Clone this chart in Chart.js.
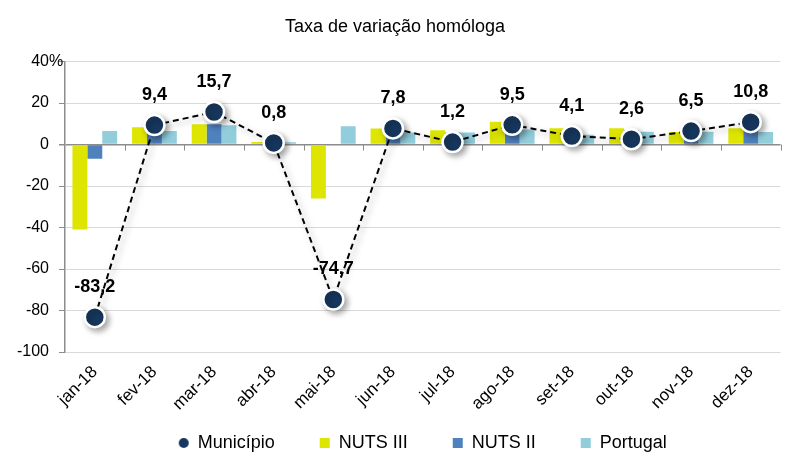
<!DOCTYPE html>
<html lang="pt">
<head>
    <meta charset="UTF-8">
    <title>Taxa de variação homóloga</title>
    <script src="https://cdn.jsdelivr.net/npm/chart.js"></script>
    <style>
        html, body { margin: 0; padding: 0; background: #fff; }
        #wrap { width: 793px; height: 462px; }
    </style>
</head>
<body>
    <div id="wrap"><canvas id="taxaChart"></canvas></div>

    <script>
        // Data
        const categories = ['jan-18', 'fev-18', 'mar-18', 'abr-18', 'mai-18', 'jun-18',
                            'jul-18', 'ago-18', 'set-18', 'out-18', 'nov-18', 'dez-18'];
        const municipio = [-83.2, 9.4, 15.7, 0.8, -74.7, 7.8, 1.2, 9.5, 4.1, 2.6, 6.5, 10.8];
        const nutsIII = [-41, 8.3, 9.8, 1.2, -26, 7.7, 6.9, 11, 7.9, 7.9, 6.1, 7.9];
        const nutsII = [-6.8, 7, 9.8, 0.9, 0, 5.5, 5.8, 9, 6.5, 7, 5.5, 9.5];
        const portugal = [6.6, 6.6, 9.3, 1.1, 8.8, 5.8, 5.8, 7.3, 4.7, 6.2, 6.2, 6.1];
        const yTicks = [40, 20, 0, -20, -40, -60, -80, -100];

        const navy = '#17375E';
        const fontFamily = "'Liberation Sans', Arial, sans-serif";

        // small legend dot for Município
        const dot = document.createElement('canvas');
        dot.width = 12;
        dot.height = 12;
        const dctx = dot.getContext('2d');
        dctx.beginPath();
        dctx.arc(6, 6, 5, 0, Math.PI * 2);
        dctx.fillStyle = navy;
        dctx.fill();

        // shadow under the Município line + markers
        const shadowPlugin = {
            id: 'shadow',
            beforeDatasetDraw(chart, args) {
                if (args.index !== 0) return;
                const ctx = chart.ctx;
                ctx.save();
                ctx.shadowColor = 'rgba(0,0,0,0.35)';
                ctx.shadowBlur = 6;
                ctx.shadowOffsetX = 3;
                ctx.shadowOffsetY = 3;
            },
            afterDatasetDraw(chart, args) {
                if (args.index === 0) chart.ctx.restore();
            }
        };

        // tick marks on the zero line between categories
        const zeroTicks = {
            id: 'zeroTicks',
            beforeDatasetsDraw(chart) {
                const { ctx, chartArea, scales } = chart;
                const y0 = scales.y.getPixelForValue(0);
                const step = (chartArea.right - chartArea.left) / categories.length;
                ctx.save();
                ctx.strokeStyle = '#8c8c8c';
                ctx.lineWidth = 1;
                ctx.beginPath();
                for (let i = 1; i <= categories.length; i++) {
                    const x = Math.round(chartArea.left + i * step) + 0.5;
                    ctx.moveTo(x, y0);
                    ctx.lineTo(x, y0 + 6);
                }
                ctx.stroke();

                // the % sign sticks out after the top tick label, like in Excel
                const y = scales.y;
                ctx.font = '16px ' + fontFamily;
                ctx.fillStyle = '#000';
                ctx.textAlign = 'left';
                ctx.textBaseline = 'middle';
                ctx.fillText('%', y.right - 6 - 10, y.getPixelForValue(40));
                ctx.restore();
            }
        };

        // value labels above Município points
        const valueLabels = {
            id: 'valueLabels',
            afterDatasetsDraw(chart) {
                const ctx = chart.ctx;
                const meta = chart.getDatasetMeta(0);
                ctx.save();
                ctx.font = 'bold 18px ' + fontFamily;
                ctx.fillStyle = '#000';
                ctx.textAlign = 'center';
                ctx.textBaseline = 'middle';
                meta.data.forEach((pt, i) => {
                    const txt = municipio[i].toFixed(1).replace('.', ',');
                    ctx.fillText(txt, pt.x, pt.y - 30);
                });
                ctx.restore();
            }
        };

        const ctx = document.getElementById('taxaChart').getContext('2d');
        const chart = new Chart(ctx, {
            type: 'bar',
            data: {
                labels: categories,
                datasets: [
                    {
                        type: 'line',
                        label: 'Município',
                        data: municipio,
                        order: 0,
                        borderColor: '#000',
                        borderWidth: 2,
                        borderDash: [6, 4],
                        tension: 0,
                        fill: false,
                        pointRadius: 10,
                        pointBackgroundColor: navy,
                        pointBorderColor: '#fff',
                        pointBorderWidth: 2.5
                    },
                    { label: 'NUTS III', data: nutsIII, backgroundColor: '#DDE500', order: 1 },
                    { label: 'NUTS II', data: nutsII, backgroundColor: '#4F81BD', order: 1 },
                    { label: 'Portugal', data: portugal, backgroundColor: '#92CDDC', order: 1 }
                ]
            },
            options: {
                responsive: true,
                maintainAspectRatio: false,
                animation: false,
                layout: { padding: { left: 0, right: 3, top: 0, bottom: 0 } },
                datasets: {
                    bar: { categoryPercentage: 0.75, barPercentage: 1.0 }
                },
                plugins: {
                    title: {
                        display: true,
                        text: 'Taxa de variação homóloga',
                        color: '#000',
                        font: { family: fontFamily, size: 18, weight: 'normal' },
                        padding: { top: 16, bottom: 24 }
                    },
                    legend: {
                        position: 'bottom',
                        fullSize: false,
                        labels: {
                            color: '#000',
                            font: { family: fontFamily, size: 18 },
                            usePointStyle: true,
                            boxWidth: 10,
                            boxHeight: 10,
                            padding: 45,
                            generateLabels(chart) {
                                const items = Chart.defaults.plugins.legend.labels.generateLabels(chart);
                                items.forEach(it => {
                                    it.pointStyle = it.datasetIndex === 0 ? dot : 'rect';
                                    it.lineWidth = 0;
                                });
                                return items;
                            }
                        }
                    },
                    tooltip: { enabled: false }
                },
                scales: {
                    x: {
                        grid: { display: false, drawTicks: false },
                        border: { display: false },
                        ticks: {
                            color: '#000',
                            font: { family: fontFamily, size: 17 },
                            minRotation: 45,
                            maxRotation: 45,
                            padding: 10
                        },
                        afterFit(scale) {
                            scale.height = 37;
                            // labels run into the legend box, don't clip them
                            scale._computeLabelArea = () => undefined;
                        }
                    },
                    y: {
                        min: -100,
                        max: 40,
                        afterBuildTicks(scale) {
                            scale.ticks = yTicks.map(v => ({ value: v }));
                        },
                        ticks: {
                            color: '#000',
                            font: { family: fontFamily, size: 16 },
                            padding: 10
                        },
                        grid: {
                            color: c => (c.tick && c.tick.value === 0 ? '#8c8c8c' : '#d9d9d9'),
                            lineWidth: c => (c.tick && c.tick.value === 0 ? 1.5 : 1),
                            tickColor: '#8c8c8c',
                            tickLength: 6
                        },
                        border: { display: true, color: '#8c8c8c', width: 1.5 },
                        afterFit(scale) { scale.width = 65; }
                    }
                }
            },
            plugins: [shadowPlugin, zeroTicks, valueLabels]
        });
    </script>
</body>
</html>
